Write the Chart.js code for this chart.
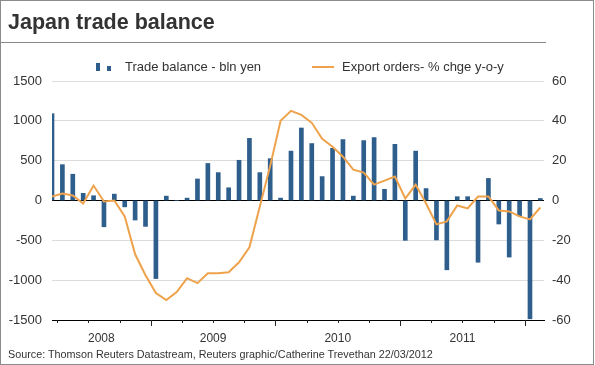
<!DOCTYPE html>
<html>
<head>
<meta charset="utf-8">
<script src="https://cdn.jsdelivr.net/npm/chart.js@4.4.0/dist/chart.umd.min.js"></script>
<style>
  html, body { margin: 0; padding: 0; background: #fff; }
  #wrap { position: relative; width: 595px; height: 365px; overflow: hidden; font-family: Arial, "Liberation Sans", sans-serif; }
  #frame { position: absolute; left: 0; top: 0; width: 594px; height: 365px; box-sizing: border-box; border: 1px solid #8c8c8c; pointer-events: none; }
  #title { position: absolute; left: 8px; top: 12px; font-size: 21.5px; line-height: 21.5px; font-weight: bold; color: #333; white-space: nowrap; }
  #rule { position: absolute; left: 0; top: 42px; width: 546px; height: 1px; background: #888; }
  #source { position: absolute; left: 8px; top: 349px; font-size: 10.8px; line-height: 11px; color: #333; white-space: nowrap; }
  canvas { position: absolute; left: 0; top: 0; }
</style>
</head>
<body>
<div id="wrap">
  <canvas id="chart" width="595" height="365"></canvas>
  <div id="title">Japan trade balance</div>
  <div id="rule"></div>
  <div id="source">Source: Thomson Reuters Datastream, Reuters graphic/Catherine Trevethan 22/03/2012</div>
  <div id="frame"></div>
</div>
<script>
// months shown, March 2008 to February 2012
const months = [
  "2008-03", "2008-04", "2008-05", "2008-06", "2008-07", "2008-08", "2008-09", "2008-10", "2008-11", "2008-12",
  "2009-01", "2009-02", "2009-03", "2009-04", "2009-05", "2009-06", "2009-07", "2009-08", "2009-09", "2009-10", "2009-11", "2009-12",
  "2010-01", "2010-02", "2010-03", "2010-04", "2010-05", "2010-06", "2010-07", "2010-08", "2010-09", "2010-10", "2010-11", "2010-12",
  "2011-01", "2011-02", "2011-03", "2011-04", "2011-05", "2011-06", "2011-07", "2011-08", "2011-09", "2011-10", "2011-11", "2011-12",
  "2012-01", "2012-02"
]

// trade balance, bln yen
const tradeBalance = [
  1090, 450, 330, 90, 60, -330, 80, -80, -245, -325,
  -980, 55, 0, 30, 270, 465, 350, 160, 505, 780, 350, 525,
  30, 620, 910, 715, 300, 655, 765, 55, 752, 790, 140, 705,
  -500, 620, 150, -495, -870, 48, 48, -775, 277, -295, -710, -195,
  -1485, 25
]

// export orders, % change y-o-y
const exportOrders = [
  2, 3.5, 2.5, -1.5, 7.5, -0.5, 0, -8, -27, -37.5,
  -46.5, -50, -46, -39, -41.5, -36.5, -36.5, -36, -31, -23.5, -3, 17.5,
  40, 45, 43, 39, 31, 27, 22, 15.5, 14, 8, 10, 12,
  1, 8, -1.5, -12, -10.5, -2.5, -4, 2, 2, -5, -5.5, -8,
  -9.5, -3.5
]

const yearLabels = ["2008", "2009", "2010", "2011"]
const leftTicks = [-1500, -1000, -500, 0, 500, 1000, 1500]
const rightTicks = [-60, -40, -20, 0, 20, 40, 60]

// month number counted from January 2008
function monthIndex(m) {
  var parts = m.split("-")
  return (parseInt(parts[0]) - 2008) * 12 + parseInt(parts[1]) - 1
}

var xs = months.map(monthIndex)
var xMin = xs[0]
var xMax = xs[xs.length - 1] + 0.35

var barColor = "#2e5e8c"
var lineColor = "#eea24c"
var textColor = "#333"

// quarter and year tick marks under the x axis
var tickMarks = {
  id: "tickMarks",
  afterDraw: function (chart) {
    var x = chart.scales.x
    var ctx = chart.ctx
    var bottom = chart.chartArea.bottom
    ctx.save()
    ctx.strokeStyle = "#222"
    ctx.lineWidth = 1
    for (var v = -0.5; v <= x.max; v += 3) {
      if (v < x.min) continue
      var px = Math.round(x.getPixelForValue(v)) + 0.5
      var len = (v + 0.5) % 12 === 0 ? 6 : 3
      ctx.beginPath()
      ctx.moveTo(px, bottom)
      ctx.lineTo(px, bottom + len)
      ctx.stroke()
    }
    ctx.restore()
  },
}

// legend drawn by hand: two little bars, then a line
var legendPlugin = {
  id: "legendPlugin",
  afterDraw: function (chart) {
    var ctx = chart.ctx
    var ds = chart.data.datasets
    var y = 67
    ctx.save()
    ctx.font = "13px Arial, 'Liberation Sans', sans-serif"
    ctx.textBaseline = "middle"
    ctx.fillStyle = barColor
    ctx.fillRect(96, 63, 4, 8)
    ctx.fillRect(107, 66, 4, 5)
    ctx.fillStyle = textColor
    ctx.fillText(ds[1].label, 125, y)
    ctx.strokeStyle = lineColor
    ctx.lineWidth = 2
    ctx.beginPath()
    ctx.moveTo(312, y)
    ctx.lineTo(334, y)
    ctx.stroke()
    ctx.fillText(ds[0].label, 342, y)
    ctx.restore()
  },
}

var ctx = document.getElementById("chart").getContext("2d")
var myChart = new Chart(ctx, {
  type: "bar",
  data: {
    datasets: [
      {
        type: "line",
        label: "Export orders- % chge y-o-y",
        data: xs.map(function (x, i) { return { x: x, y: exportOrders[i] } }),
        yAxisID: "y2",
        borderColor: lineColor,
        borderWidth: 2,
        pointRadius: 0,
        tension: 0,
        order: 0,
      },
      {
        label: "Trade balance - bln yen",
        data: xs.map(function (x, i) { return { x: x, y: tradeBalance[i] } }),
        yAxisID: "y",
        backgroundColor: barColor,
        barThickness: 4,
        clip: 0,
        order: 1,
      },
    ],
  },
  options: {
    responsive: false,
    animation: false,
    devicePixelRatio: 1,
    layout: { padding: { top: 81, left: 0, right: 0, bottom: 0 } },
    plugins: {
      legend: { display: false },
      tooltip: { enabled: false },
      title: { display: false },
    },
    scales: {
      x: {
        type: "linear",
        offset: false,
        min: xMin,
        max: xMax,
        afterBuildTicks: function (scale) {
          // one label in the middle of the visible part of each year
          scale.ticks = yearLabels.map(function (y, i) {
            var a = Math.max(i * 12 - 0.5, xMin)
            var b = Math.min(i * 12 + 11.5, xMax)
            return { value: (a + b) / 2 }
          })
        },
        afterFit: function (scale) { scale.height = 45 },
        ticks: {
          autoSkip: false,
          maxRotation: 0,
          padding: 11,
          color: textColor,
          font: { size: 12, family: "Arial, 'Liberation Sans', sans-serif" },
          callback: function (value) {
            return yearLabels[Math.floor((value + 0.5) / 12)]
          },
        },
        grid: { display: false, drawTicks: false, offset: false },
        border: { display: true, color: "#000", width: 1 },
      },
      y: {
        position: "left",
        min: -1500,
        max: 1500,
        afterBuildTicks: function (scale) {
          scale.ticks = leftTicks.map(function (v) { return { value: v } })
        },
        afterFit: function (scale) { scale.width = 52 },
        ticks: {
          padding: 10,
          color: textColor,
          font: { size: 13, family: "Arial, 'Liberation Sans', sans-serif" },
          callback: function (v) { return String(v) },
        },
        grid: {
          drawTicks: false,
          color: function (c) { return c.tick && c.tick.value === 0 ? "#000" : "#dcdcdc" },
        },
        border: { display: false },
      },
      y2: {
        position: "right",
        min: -60,
        max: 60,
        afterBuildTicks: function (scale) {
          scale.ticks = rightTicks.map(function (v) { return { value: v } })
        },
        afterFit: function (scale) { scale.width = 51 },
        ticks: {
          padding: 8,
          color: textColor,
          font: { size: 13, family: "Arial, 'Liberation Sans', sans-serif" },
          callback: function (v) { return String(v) },
        },
        grid: { display: false, drawTicks: false },
        border: { display: false },
      },
    },
  },
  plugins: [tickMarks, legendPlugin],
})
</script>
</body>
</html>
